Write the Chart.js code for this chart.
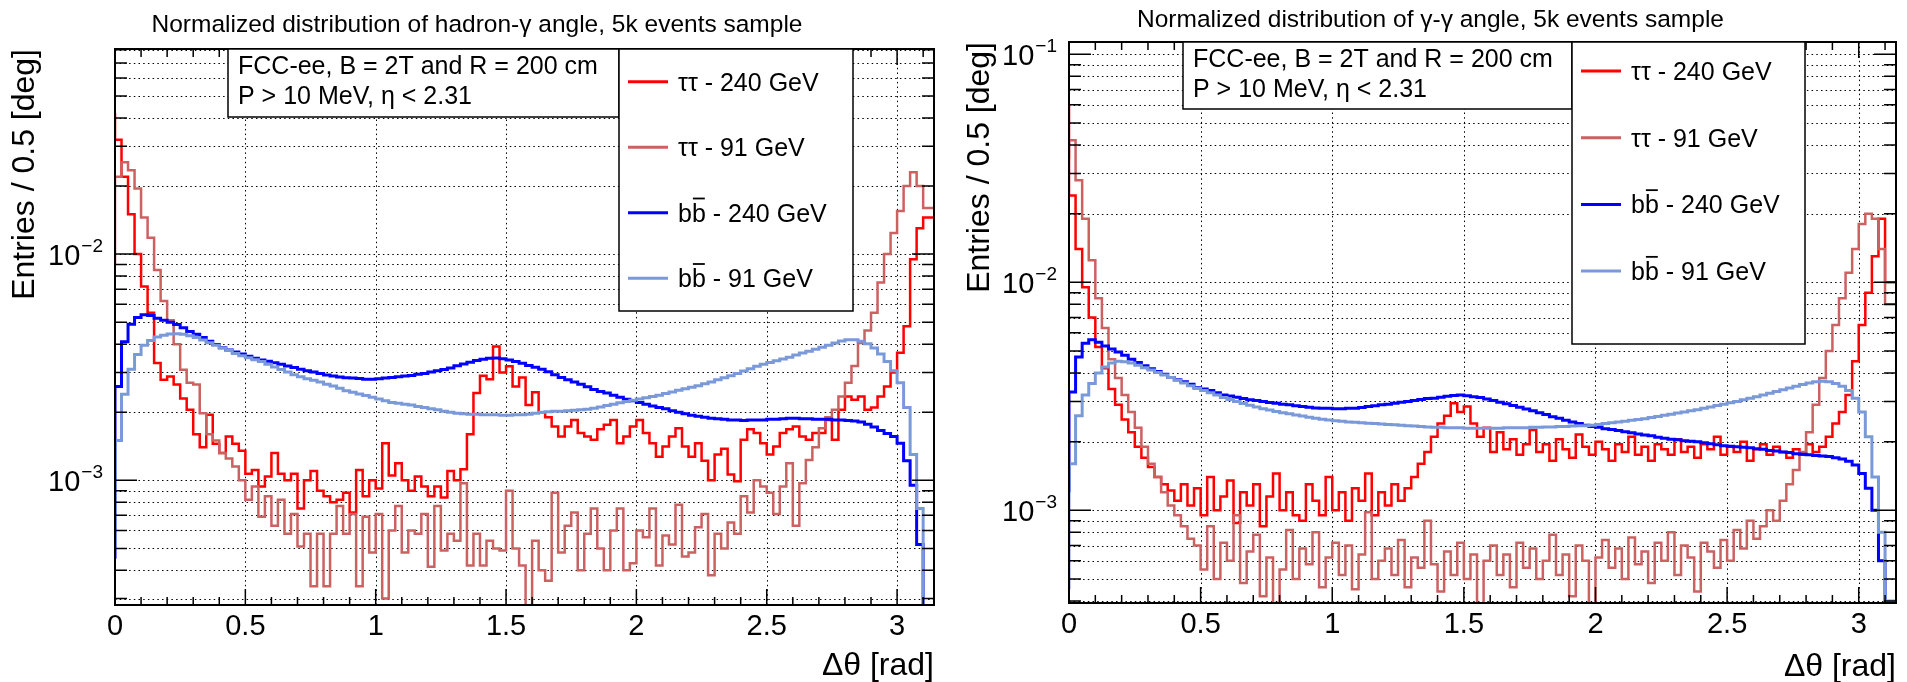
<!DOCTYPE html>
<html>
<head>
<meta charset="utf-8">
<script src="https://cdn.jsdelivr.net/npm/chart.js@4.4.1/dist/chart.umd.min.js"></script>
<style>
  html, body { margin: 0; padding: 0; background: #fff; }
  body { width: 1907px; height: 682px; position: relative; overflow: hidden; }
  canvas { position: absolute; top: 0; }
</style>
</head>
<body>
<canvas id="padLeft" width="954" height="682" style="left:0"></canvas>
<canvas id="padRight" width="953" height="682" style="left:954px"></canvas>
<script>
// histogram rebinned to 0.025 rad, values in units of 1e-3 (entries / 0.5 deg, normalized)
const BIN_WIDTH = 0.025;
const xTickValues = [0, 0.5, 1, 1.5, 2, 2.5, 3];
const seriesLabels = ['ττ - 240 GeV', 'ττ - 91 GeV', 'bb\u0304 - 240 GeV', 'bb\u0304 - 91 GeV'];
const seriesColors = ['#ff0000', 'rgb(204,97,97)', '#0000ff', 'rgb(122,153,217)'];
const seriesWidths = [2.5, 2.5, 3, 3];
const infoLines = ['FCC-ee, B = 2T and R = 200 cm', 'P > 10 MeV, η < 2.31'];

// ---- hadron-gamma angle ----
const hgTauTau240 = [
  42, 32, 22, 15, 10, 7.2, 5.5, 3.3, 2.78, 2.88,
  2.65, 2.3, 2.05, 1.6, 1.4, 1.95, 1.45, 1.32, 1.56, 1.45,
  1.35, 1.07, 1.11, 0.94, 1.04, 1.32, 1.07, 1.0, 1.07, 0.75,
  1.0, 1.1, 0.9, 0.85, 0.8, 0.82, 0.88, 0.72, 1.11, 0.85,
  1.0, 0.92, 1.46, 1.05, 1.19, 1.0, 0.9, 1.04, 0.94, 0.85,
  0.94, 0.84, 1.1, 1.0, 1.12, 1.6, 2.43, 2.9, 2.8, 3.9,
  3.0, 3.19, 2.6, 2.85, 2.15, 2.45, 2.0, 1.9, 1.73, 1.56,
  1.73, 1.85, 1.62, 1.56, 1.51, 1.68, 1.76, 1.85, 1.46, 1.56,
  1.73, 1.85, 1.62, 1.46, 1.27, 1.41, 1.56, 1.7, 1.41, 1.27,
  1.46, 1.22, 1.0, 1.3, 1.38, 1.06, 0.99, 1.51, 1.68, 1.62,
  1.46, 1.3, 1.41, 1.62, 1.68, 1.73, 1.56, 1.51, 1.62, 1.62,
  1.85, 1.51, 2.05, 2.35, 2.27, 2.35, 2.05, 2.1, 2.35, 2.6,
  3.0, 3.66, 4.8, 9.5, 13, 14.5
];
const hgTauTau91 = [
  9, 22, 25.5, 23.5, 19.5, 14.5, 11.8, 8.5, 6.2, 5.1,
  4.0, 3.08, 2.7, 2.65, 1.98, 1.6, 1.5, 1.32, 1.25, 1.15,
  1.0, 0.82, 0.94, 0.69, 0.85, 0.63, 0.82, 0.58, 0.71, 0.51,
  0.58, 0.34, 0.58, 0.34, 0.58, 0.77, 0.58, 0.71, 0.34, 0.69,
  0.48, 0.71, 0.3, 0.6, 0.77, 0.48, 0.6, 0.58, 0.71, 0.415,
  0.77, 0.49, 0.58, 0.54, 0.97, 0.42, 0.58, 0.42, 0.54, 0.5,
  0.49, 0.9, 0.5, 0.42, 0.28, 0.54, 0.4, 0.36, 0.88, 0.48,
  0.63, 0.72, 0.4, 0.58, 0.75, 0.5, 0.4, 0.6, 0.75, 0.4,
  0.43, 0.6, 0.56, 0.75, 0.42, 0.57, 0.52, 0.78, 0.46, 0.48,
  0.62, 0.71, 0.38, 0.58, 0.5, 0.65, 0.58, 0.85, 0.72, 1.0,
  0.94, 0.88, 0.71, 0.94, 1.19, 0.63, 0.97, 1.23, 1.4, 1.7,
  1.9, 2.05, 2.35, 2.7, 3.2, 4.05, 4.6, 5.5, 7.5, 10,
  12.4, 15.5, 20, 23, 20, 16
];
const hgBB240 = [
  0.45, 2.6, 4.1, 4.9, 5.25, 5.4, 5.35, 5.2, 5.1, 5.0,
  4.88, 4.72, 4.55, 4.42, 4.28, 4.12, 3.98, 3.86, 3.77, 3.69,
  3.62, 3.54, 3.46, 3.40, 3.36, 3.31, 3.26, 3.20, 3.15, 3.10,
  3.05, 3.01, 2.97, 2.92, 2.89, 2.86, 2.84, 2.83, 2.82, 2.80,
  2.80, 2.81, 2.83, 2.85, 2.87, 2.89, 2.91, 2.94, 2.97, 3.01,
  3.05, 3.09, 3.14, 3.21, 3.27, 3.33, 3.39, 3.43, 3.46, 3.47,
  3.45, 3.40, 3.35, 3.29, 3.22, 3.16, 3.10, 3.02, 2.93, 2.85,
  2.78, 2.72, 2.66, 2.59, 2.52, 2.47, 2.43, 2.38, 2.33, 2.28,
  2.25, 2.21, 2.17, 2.13, 2.10, 2.07, 2.03, 2.00, 1.97, 1.94,
  1.92, 1.90, 1.88, 1.87, 1.86, 1.85, 1.85, 1.84, 1.85, 1.85,
  1.85, 1.86, 1.86, 1.87, 1.88, 1.88, 1.87, 1.87, 1.86, 1.86,
  1.86, 1.85, 1.85, 1.84, 1.83, 1.81, 1.77, 1.72, 1.66, 1.61,
  1.56, 1.46, 1.22, 0.95, 0.52, 0.2
];
const hgBB91 = [
  0.5, 1.5, 2.4, 3.1, 3.6, 3.95, 4.15, 4.3, 4.38, 4.43,
  4.45, 4.42, 4.36, 4.28, 4.17, 4.06, 3.95, 3.85, 3.75, 3.64,
  3.55, 3.48, 3.41, 3.35, 3.26, 3.17, 3.09, 3.01, 2.93, 2.87,
  2.81, 2.77, 2.72, 2.66, 2.61, 2.55, 2.49, 2.45, 2.41, 2.37,
  2.33, 2.29, 2.25, 2.21, 2.19, 2.17, 2.15, 2.12, 2.10, 2.07,
  2.05, 2.02, 2.00, 1.98, 1.97, 1.96, 1.96, 1.95, 1.95, 1.95,
  1.94, 1.94, 1.95, 1.95, 1.96, 1.98, 2.00, 2.01, 2.02, 2.02,
  2.03, 2.04, 2.05, 2.06, 2.08, 2.11, 2.14, 2.17, 2.20, 2.23,
  2.26, 2.29, 2.32, 2.35, 2.38, 2.42, 2.46, 2.50, 2.54, 2.58,
  2.62, 2.67, 2.72, 2.78, 2.84, 2.90, 2.97, 3.04, 3.11, 3.19,
  3.26, 3.32, 3.38, 3.44, 3.50, 3.58, 3.65, 3.72, 3.80, 3.87,
  3.95, 4.05, 4.13, 4.18, 4.18, 4.12, 4.02, 3.85, 3.62, 3.35,
  3.05, 2.7, 2.1, 1.3, 0.75, 0.2
];

// ---- gamma-gamma angle ----
const ggTauTau240 = [
  60, 24, 14, 9.5, 7, 5.2, 4.2, 3.4, 2.9, 2.5,
  2.2, 1.9, 1.7, 1.55, 1.4, 1.3, 1.22, 1.1, 1.3, 1.05,
  1.25, 0.95, 1.4, 1.0, 1.15, 1.35, 0.88, 1.2, 1.05, 1.3,
  0.85, 1.15, 1.45, 1.0, 1.2, 0.95, 0.9, 1.3, 1.1, 0.95,
  1.4, 1.0, 1.2, 0.9, 1.25, 1.1, 1.45, 0.95, 1.2, 1.05,
  1.3, 1.1, 1.25, 1.4, 1.6, 1.8, 2.1, 2.4, 2.6, 2.95,
  2.7, 2.85, 2.4, 2.1, 2.3, 1.8, 2.2, 1.85, 2.05, 1.75,
  1.95, 2.25, 1.8, 1.95, 1.65, 2.05, 1.85, 1.7, 2.15, 1.9,
  1.75, 2.0, 1.85, 1.65, 1.95, 1.8, 2.1, 1.75, 1.9, 1.65,
  1.95, 1.85, 1.75, 2.05, 1.8, 1.9, 1.7, 1.95, 1.85, 2.1,
  1.75, 1.9, 1.8, 2.0, 1.65, 1.85, 1.95, 1.75, 1.9, 1.8,
  1.7, 1.85, 1.75, 1.95, 1.8, 1.9, 2.1, 2.4, 2.7, 3.2,
  4.5, 6.5, 9, 13, 19, 10
];
const ggTauTau91 = [
  35, 42, 28, 19, 12.5, 8.5, 6.3, 4.6, 3.8, 3.2,
  2.7, 2.3, 1.9, 1.6, 1.4, 1.2, 1.05, 0.95, 0.85, 0.75,
  0.7, 0.55, 0.85, 0.5, 0.72, 0.6, 0.95, 0.48, 0.66, 0.78,
  0.42, 0.62, 0.35, 0.55, 0.82, 0.5, 0.68, 0.58, 0.8, 0.46,
  0.62, 0.72, 0.52, 0.7, 0.45, 0.64, 0.98, 0.5, 0.6, 0.68,
  0.52, 0.74, 0.46, 0.62, 0.56, 0.9, 0.58, 0.44, 0.66, 0.52,
  0.72, 0.5, 0.64, 0.35, 0.6, 0.7, 0.52, 0.64, 0.46, 0.72,
  0.56, 0.68, 0.5, 0.6, 0.78, 0.52, 0.64, 0.42, 0.7, 0.6,
  0.38, 0.62, 0.74, 0.56, 0.68, 0.5, 0.76, 0.58, 0.66, 0.48,
  0.72, 0.6, 0.8, 0.52, 0.7, 0.62, 0.44, 0.72, 0.66, 0.56,
  0.74, 0.6, 0.82, 0.68, 0.9, 0.75, 0.85, 1.0, 0.9, 1.1,
  1.3, 1.5, 1.8, 2.2, 2.9, 3.8, 5.0, 6.5, 8.5, 11,
  14, 18, 20, 19, 14, 8
];
const ggBB240 = [
  1.2, 3.3, 4.7, 5.4, 5.6, 5.45, 5.25, 5.1, 4.95, 4.78,
  4.6, 4.45, 4.3, 4.18, 4.06, 3.95, 3.82, 3.74, 3.66, 3.57,
  3.45, 3.4, 3.35, 3.28, 3.2, 3.17, 3.13, 3.09, 3.05, 3.03,
  3.0, 2.97, 2.95, 2.92, 2.9, 2.87, 2.85, 2.83, 2.81, 2.8,
  2.8, 2.79, 2.79, 2.8, 2.8, 2.82, 2.85, 2.87, 2.9, 2.92,
  2.95, 2.98, 3.0, 3.03, 3.06, 3.09, 3.1, 3.13, 3.16, 3.19,
  3.2, 3.18, 3.15, 3.12, 3.08, 3.03, 2.98, 2.93, 2.88, 2.83,
  2.78, 2.73, 2.68, 2.63, 2.57, 2.53, 2.48, 2.44, 2.4, 2.36,
  2.33, 2.31, 2.28, 2.26, 2.24, 2.21, 2.19, 2.16, 2.14, 2.12,
  2.09, 2.07, 2.05, 2.04, 2.02, 2.01, 2.0, 1.98, 1.96, 1.94,
  1.92, 1.91, 1.9, 1.89, 1.88, 1.86, 1.85, 1.83, 1.82, 1.8,
  1.79, 1.77, 1.76, 1.75, 1.74, 1.73, 1.72, 1.7, 1.68, 1.64,
  1.58, 1.45, 1.25, 1.0, 0.6, 0.3
];
const ggBB91 = [
  0.45, 1.6, 2.6, 3.2, 3.6, 4.0, 4.25, 4.42, 4.5, 4.48,
  4.42, 4.33, 4.22, 4.12, 4.02, 3.92, 3.82, 3.72, 3.62, 3.52,
  3.42, 3.35, 3.28, 3.2, 3.12, 3.06, 3.0, 2.94, 2.89, 2.84,
  2.79, 2.75, 2.71, 2.68, 2.65, 2.62, 2.59, 2.56, 2.53, 2.51,
  2.49, 2.47, 2.46, 2.44, 2.43, 2.42, 2.41, 2.4, 2.39, 2.38,
  2.37, 2.36, 2.35, 2.34, 2.33, 2.32, 2.31, 2.31, 2.3, 2.3,
  2.3, 2.29, 2.29, 2.29, 2.29, 2.29, 2.29, 2.3, 2.3, 2.3,
  2.3, 2.31, 2.31, 2.32, 2.32, 2.33, 2.33, 2.34, 2.35, 2.35,
  2.36, 2.38, 2.4, 2.42, 2.44, 2.46, 2.48, 2.5, 2.52, 2.55,
  2.58, 2.61, 2.64, 2.67, 2.7, 2.73, 2.76, 2.8, 2.84, 2.88,
  2.92, 2.96, 3.0, 3.05, 3.1, 3.15, 3.2, 3.26, 3.32, 3.38,
  3.44, 3.5, 3.56, 3.62, 3.66, 3.68, 3.66, 3.6, 3.5, 3.35,
  3.1, 2.7, 2.1, 1.4, 0.8, 0.4
];

const FONT = "'Liberation Sans', Arial, Helvetica, sans-serif";

// bin lower edges + closing edge, values converted from 1e-3 units
function histPoints(values) {
  const pts = values.map((v, i) => ({ x: i * BIN_WIDTH, y: v * 1e-3 }));
  pts.push({ x: values.length * BIN_WIDTH, y: values[values.length - 1] * 1e-3 });
  return pts;
}

function logSteps(min, max) {
  const out = [];
  for (let k = Math.floor(Math.log10(min)); k <= Math.ceil(Math.log10(max)); k++) {
    for (let m = 1; m <= 9; m++) {
      const v = Number((m * Math.pow(10, k)).toPrecision(6));
      if (v > min && v < max) out.push({ v, k, major: m === 1 });
    }
  }
  return out;
}

// draws text; a combining macron (U+0304) becomes an overline on the char before it
function drawLabel(ctx, text, x, baseline, size) {
  const i = text.indexOf('\u0304');
  if (i < 0) { ctx.fillText(text, x, baseline); return; }
  const before = text.slice(0, i - 1), ch = text[i - 1], after = text.slice(i + 1);
  ctx.fillText(before + ch + after, x, baseline);
  const x0 = x + ctx.measureText(before).width;
  const w = ctx.measureText(ch).width;
  const oy = baseline - size * 0.73 - 5;
  ctx.save();
  ctx.strokeStyle = ctx.fillStyle;
  ctx.lineWidth = 1.8;
  ctx.beginPath();
  ctx.moveTo(x0 + 1, oy); ctx.lineTo(x0 + w - 1, oy);
  ctx.stroke();
  ctx.restore();
}

const rootStyle = {
  id: 'rootStyle',
  beforeDatasetsDraw(chart, args, o) {
    const { ctx, chartArea: a, scales: { x, y } } = chart;
    ctx.save();
    ctx.strokeStyle = '#000';
    ctx.lineWidth = 1;
    ctx.setLineDash([1.5, 3.2]);
    ctx.beginPath();
    xTickValues.filter(v => v > 0).forEach(v => {
      const px = Math.round(x.getPixelForValue(v)) + 0.5;
      ctx.moveTo(px, a.top); ctx.lineTo(px, a.bottom);
    });
    logSteps(y.min, y.max).forEach(({ v }) => {
      const py = Math.round(y.getPixelForValue(v)) + 0.5;
      ctx.moveTo(a.left, py); ctx.lineTo(a.right, py);
    });
    ctx.stroke();
    ctx.restore();
  },
  afterDatasetsDraw(chart, args, o) {
    const { ctx, chartArea: a, scales: { x, y } } = chart;
    ctx.save();
    ctx.setLineDash([]);
    ctx.strokeStyle = '#000';
    ctx.fillStyle = '#000';

    // inner ticks
    ctx.lineWidth = 1.5;
    ctx.beginPath();
    for (let t = 0; t / 10 <= x.max; t++) {
      const len = t % 5 === 0 ? 16 : 8;
      const px = x.getPixelForValue(t / 10);
      ctx.moveTo(px, a.bottom); ctx.lineTo(px, a.bottom - len);
      ctx.moveTo(px, a.top); ctx.lineTo(px, a.top + len);
    }
    logSteps(y.min, y.max).forEach(({ v, major }) => {
      const len = major ? 22 : 12;
      const py = y.getPixelForValue(v);
      ctx.moveTo(a.left, py); ctx.lineTo(a.left + len, py);
      ctx.moveTo(a.right, py); ctx.lineTo(a.right - len, py);
    });
    ctx.stroke();

    // frame
    ctx.lineWidth = 2;
    ctx.strokeRect(a.left, a.top, a.right - a.left, a.bottom - a.top);

    // y labels 10^k
    logSteps(y.min, y.max).filter(s => s.major).forEach(({ v, k }) => {
      const py = y.getPixelForValue(v);
      ctx.font = `29px ${FONT}`;
      const wBase = ctx.measureText('10').width;
      ctx.font = `19px ${FONT}`;
      const sup = '\u2212' + Math.abs(k);
      const wSup = ctx.measureText(sup).width;
      const xEnd = a.left - 12;
      ctx.textAlign = 'left';
      ctx.textBaseline = 'alphabetic';
      ctx.fillText(sup, xEnd - wSup, py - 2);
      ctx.font = `29px ${FONT}`;
      ctx.fillText('10', xEnd - wSup - wBase - 1, py + 10.5);
    });

    // title
    ctx.font = `24.5px ${FONT}`;
    ctx.textAlign = 'center';
    ctx.textBaseline = 'alphabetic';
    ctx.fillText(o.title, chart.width / 2, o.titleBaseline);

    // axis titles
    ctx.font = `32px ${FONT}`;
    ctx.textBaseline = 'middle';
    ctx.textAlign = 'right';
    ctx.fillText('Δθ [rad]', a.right, o.xTitleY);
    ctx.save();
    ctx.translate(o.yTitleX, a.top);
    ctx.rotate(-Math.PI / 2);
    ctx.fillText('Entries / 0.5 [deg]', 0, 0);
    ctx.restore();

    // info box
    const b = o.infoBox;
    ctx.fillStyle = '#fff';
    ctx.fillRect(b.x, b.y, b.w, b.h);
    ctx.lineWidth = 1.5;
    ctx.strokeRect(b.x, b.y, b.w, b.h);
    ctx.fillStyle = '#000';
    ctx.font = `25px ${FONT}`;
    ctx.textAlign = 'left';
    ctx.textBaseline = 'alphabetic';
    infoLines.forEach((t, i) => ctx.fillText(t, b.x + 10, b.y + 25 + i * 30));

    // legend
    const L = o.legend;
    ctx.fillStyle = '#fff';
    ctx.fillRect(L.x, L.y, L.w, L.h);
    ctx.strokeRect(L.x, L.y, L.w, L.h);
    seriesLabels.forEach((lab, i) => {
      const cy = L.y + L.first + i * L.step;
      ctx.strokeStyle = seriesColors[i];
      ctx.lineWidth = 3;
      ctx.beginPath();
      ctx.moveTo(L.x + 9, cy); ctx.lineTo(L.x + 49, cy);
      ctx.stroke();
      ctx.fillStyle = '#000';
      ctx.font = `25px ${FONT}`;
      drawLabel(ctx, lab, L.x + 59, cy + 9, 25);
    });
    ctx.restore();
  }
};

function makeChart(id, series, opt) {
  const order = [4, 3, 2, 1];
  return new Chart(document.getElementById(id), {
    type: 'line',
    data: {
      datasets: series.map((vals, i) => ({
        label: seriesLabels[i],
        data: histPoints(vals),
        borderColor: seriesColors[i],
        borderWidth: seriesWidths[i],
        stepped: 'after',
        pointRadius: 0,
        fill: false,
        order: order[i]
      }))
    },
    options: {
      responsive: false,
      animation: false,
      events: [],
      layout: { padding: { top: opt.top, right: opt.right, left: 0, bottom: 0 } },
      plugins: {
        legend: { display: false },
        tooltip: { enabled: false },
        rootStyle: opt
      },
      scales: {
        x: {
          type: 'linear',
          min: 0,
          max: Math.PI,
          afterBuildTicks: s => { s.ticks = xTickValues.map(v => ({ value: v })); },
          afterFit: s => { s.height = opt.xAxisHeight; },
          ticks: {
            color: '#000',
            font: { family: FONT, size: 29 },
            padding: 5,
            maxRotation: 0,
            autoSkip: false,
            callback: v => String(v)
          },
          grid: { display: false, drawTicks: false },
          border: { display: false }
        },
        y: {
          type: 'logarithmic',
          min: opt.yMin,
          max: opt.yMax,
          afterFit: s => { s.width = 115; },
          ticks: { display: false },
          grid: { display: false, drawTicks: false },
          border: { display: false }
        }
      }
    },
    plugins: [rootStyle]
  });
}

makeChart('padLeft', [hgTauTau240, hgTauTau91, hgBB240, hgBB91], {
  title: 'Normalized distribution of hadron-γ angle, 5k events sample',
  titleBaseline: 32,
  top: 49, right: 20, xAxisHeight: 77,
  yMin: 2.81e-4, yMax: 0.0807,
  xTitleY: 666, yTitleX: 25,
  infoBox: { x: 228, y: 49, w: 391, h: 68 },
  legend: { x: 619, y: 49, w: 234, h: 262, first: 32.75, step: 65.5 }
});

makeChart('padRight', [ggTauTau240, ggTauTau91, ggBB240, ggBB91], {
  title: 'Normalized distribution of γ-γ angle, 5k events sample',
  titleBaseline: 27,
  top: 42, right: 11, xAxisHeight: 79,
  yMin: 3.92e-4, yMax: 0.1132,
  xTitleY: 667, yTitleX: 26,
  infoBox: { x: 229, y: 42, w: 389, h: 67 },
  legend: { x: 618, y: 42, w: 233, h: 302, first: 29, step: 66.7 }
});
</script>
</body>
</html>
